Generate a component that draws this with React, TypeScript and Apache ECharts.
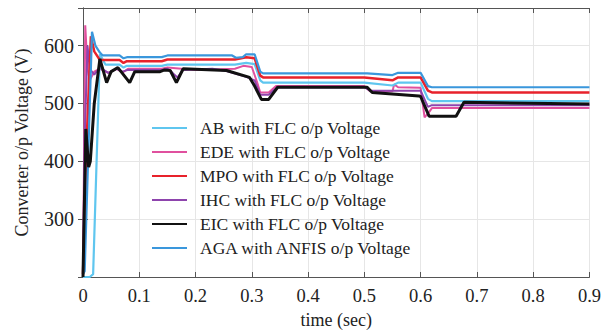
import React, { useEffect, useRef } from "react";
import * as echarts from "echarts";

const seriesNames = [
  "AB with FLC o/p Voltage",
  "EDE with FLC o/p Voltage",
  "MPO with FLC o/p Voltage",
  "IHC with FLC o/p Voltage",
  "EIC with FLC o/p Voltage",
  "AGA with ANFIS o/p Voltage",
];

const xTicks = [0, 0.1, 0.2, 0.3, 0.4, 0.5, 0.6, 0.7, 0.8, 0.9];
const yTicks = [300, 400, 500, 600];

const abData: number[][] = [
  [0, 200], [0.012, 200], [0.018, 205], [0.03, 585], [0.035, 576], [0.04, 567],
  [0.065, 567], [0.072, 562], [0.078, 565], [0.14, 565], [0.15, 567], [0.27, 567],
  [0.29, 570], [0.305, 568], [0.315, 540], [0.32, 536], [0.5, 536], [0.55, 531],
  [0.56, 536], [0.6, 536], [0.613, 508], [0.62, 504], [0.9, 504],
];

const edeData: number[][] = [
  [0, 205], [0.004, 635], [0.008, 560], [0.012, 540], [0.02, 555], [0.03, 560],
  [0.045, 553], [0.06, 560], [0.07, 553], [0.08, 560], [0.14, 560], [0.15, 562],
  [0.2, 558], [0.27, 560], [0.285, 565], [0.3, 563], [0.31, 535], [0.315, 519],
  [0.33, 519], [0.343, 530], [0.5, 530], [0.51, 521], [0.55, 521], [0.553, 533],
  [0.56, 528], [0.6, 527], [0.607, 476], [0.615, 485], [0.62, 492], [0.9, 492],
];

const mpoData: number[][] = [
  [0, 205], [0.005, 400], [0.014, 616], [0.02, 590], [0.03, 575], [0.065, 575],
  [0.072, 570], [0.078, 573], [0.14, 573], [0.15, 576], [0.27, 576], [0.29, 580],
  [0.305, 578], [0.315, 548], [0.32, 545], [0.5, 545], [0.55, 540], [0.56, 545],
  [0.6, 545], [0.613, 522], [0.62, 519], [0.9, 519],
];

const ihcData: number[][] = [
  [0, 205], [0.003, 440], [0.008, 600], [0.012, 560], [0.02, 550], [0.03, 562],
  [0.045, 553], [0.06, 560], [0.07, 555], [0.08, 558], [0.14, 558], [0.15, 560],
  [0.16, 552], [0.168, 545], [0.178, 558], [0.23, 560], [0.255, 556], [0.29, 546],
  [0.305, 540], [0.315, 515], [0.33, 515], [0.345, 528], [0.5, 528], [0.51, 522],
  [0.6, 522], [0.613, 494], [0.62, 497], [0.9, 497],
];

const eicData: number[][] = [
  [0, 200], [0.005, 456], [0.01, 390], [0.013, 400], [0.02, 500], [0.03, 577],
  [0.042, 536], [0.05, 555], [0.062, 562], [0.083, 536], [0.092, 555], [0.137, 555],
  [0.145, 558], [0.155, 557], [0.166, 536], [0.178, 560], [0.255, 557], [0.296, 545],
  [0.305, 530], [0.317, 507], [0.33, 507], [0.346, 528], [0.505, 528], [0.514, 519],
  [0.597, 513], [0.6, 512], [0.615, 478], [0.663, 478], [0.677, 502], [0.9, 499],
];

const agaData: number[][] = [
  [0, 205], [0.003, 210], [0.016, 624], [0.022, 600], [0.03, 588], [0.035, 583],
  [0.065, 583], [0.072, 578], [0.078, 580], [0.14, 580], [0.15, 583], [0.265, 583],
  [0.272, 579], [0.284, 580], [0.29, 585], [0.305, 585], [0.315, 555], [0.32, 552],
  [0.505, 552], [0.55, 549], [0.56, 553], [0.6, 553], [0.613, 530], [0.62, 528],
  [0.9, 528],
];

const colors = ["#5fc6ef", "#e0509e", "#e8222b", "#8e44ad", "#111111", "#3a97dc"];
const widths = [2.2, 2, 2.5, 2, 3, 2.2];
const allData = [abData, edeData, mpoData, ihcData, eicData, agaData];
const drawOrder = [1, 3, 0, 2, 5, 4];

const FONT = "Liberation Serif";

export default function App() {
  const ref = useRef<HTMLDivElement>(null);
  useEffect(() => {
    if (!ref.current) return;
    const chart = echarts.init(ref.current, undefined, { renderer: "svg" });
    const series = drawOrder.map((i) => ({
      name: seriesNames[i],
      type: "line",
      data: allData[i],
      symbol: "none",
      showSymbol: false,
      xAxisIndex: 0,
      yAxisIndex: 0,
      lineStyle: { color: colors[i], width: widths[i] },
      itemStyle: { color: colors[i] },
      z: 2 + drawOrder.indexOf(i),
    }));
    const tickStyle = { show: true, inside: true, length: 5, lineStyle: { color: "#555" } };
    const lineStyle = { show: true, lineStyle: { color: "#555", width: 1 } };
    chart.setOption({
      animation: false,
      backgroundColor: "#ffffff",
      grid: { left: 83, right: 13, top: 8, bottom: 56, containLabel: false },
      legend: {
        data: seriesNames.map((n) => ({ name: n, icon: "rect" })),
        orient: "vertical",
        left: 147,
        top: 114,
        itemWidth: 35,
        itemHeight: 2,
        itemGap: 6,
        textStyle: { fontFamily: FONT, fontSize: 17.5, color: "#222", padding: [0, 0, 0, 8], lineHeight: 18 },
      },
      xAxis: [
        {
          type: "value",
          min: 0,
          max: 0.9,
          interval: 0.1,
          name: "time (sec)",
          nameLocation: "middle",
          nameGap: 34,
          nameTextStyle: { fontFamily: FONT, fontSize: 18, color: "#222" },
          axisLine: lineStyle,
          axisTick: tickStyle,
          axisLabel: {
            show: true,
            fontFamily: FONT,
            fontSize: 18.5,
            color: "#222",
            margin: 9,
            formatter: (v: number) => {
              const t = xTicks.find((x) => Math.abs(x - v) < 1e-6);
              return t === undefined ? "" : String(t);
            },
          },
          splitLine: { show: true, lineStyle: { color: "#e6e6e6", width: 1 } },
        },
        {
          type: "value",
          position: "top",
          min: 0,
          max: 0.9,
          interval: 0.1,
          axisLine: lineStyle,
          axisTick: tickStyle,
          axisLabel: { show: false },
          splitLine: { show: false },
        },
      ],
      yAxis: [
        {
          type: "value",
          min: 200,
          max: 665,
          interval: 100,
          name: "Converter o/p Voltage (V)",
          nameLocation: "middle",
          nameGap: 52,
          nameTextStyle: { fontFamily: FONT, fontSize: 18, color: "#222" },
          axisLine: lineStyle,
          axisTick: tickStyle,
          axisLabel: {
            show: true,
            fontFamily: FONT,
            fontSize: 20,
            color: "#222",
            margin: 9,
            formatter: (v: number) => (yTicks.includes(v) ? String(v) : ""),
          },
          splitLine: { show: true, lineStyle: { color: "#e6e6e6", width: 1 } },
        },
        {
          type: "value",
          position: "right",
          min: 200,
          max: 665,
          interval: 100,
          axisLine: lineStyle,
          axisTick: tickStyle,
          axisLabel: { show: false },
          splitLine: { show: false },
        },
      ],
      series,
    });
    return () => chart.dispose();
  }, []);
  return <div ref={ref} style={{ width: 604, height: 334, position: "absolute", left: 0, top: 0 }} />;
}
